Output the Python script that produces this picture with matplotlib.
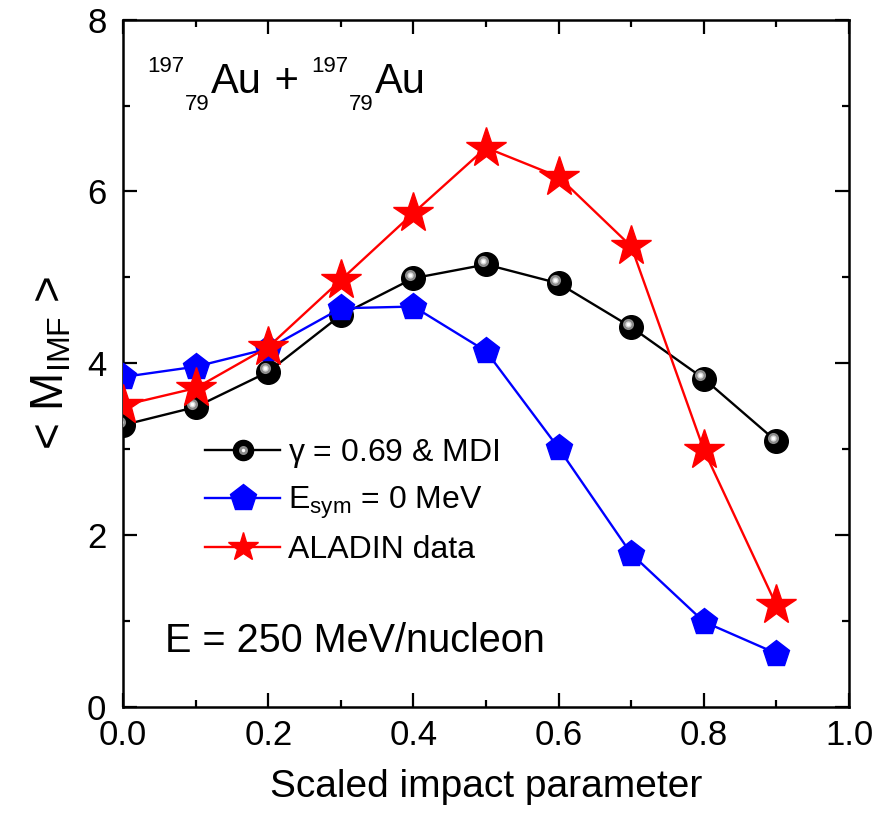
import matplotlib
matplotlib.use("Agg")
import matplotlib.pyplot as plt
import matplotlib.transforms as mtransforms
from matplotlib.legend_handler import HandlerTuple
from matplotlib.lines import Line2D

plt.rcParams['font.family'] = ['Liberation Sans', 'DejaVu Sans']
plt.rcParams['mathtext.fontset'] = 'custom'
plt.rcParams['mathtext.rm'] = 'Liberation Sans'
plt.rcParams['mathtext.it'] = 'Liberation Sans'

# données
b = [0.0, 0.1, 0.2, 0.3, 0.4, 0.5, 0.6, 0.7, 0.8, 0.9]
m_mdi = [3.28, 3.49, 3.90, 4.56, 4.99, 5.15, 4.93, 4.42, 3.82, 3.09]
m_esym0 = [3.84, 3.96, 4.17, 4.64, 4.66, 4.14, 3.01, 1.78, 0.99, 0.62]
m_aladin = [3.51, 3.71, 4.19, 4.97, 5.75, 6.51, 6.17, 5.36, 2.99, 1.18]

fig = plt.figure(figsize=(8.73, 8.18), dpi=100)
ax = fig.add_axes([0.141, 0.136, 0.8316, 0.8399])

# sphères noires avec reflet
ax.plot(b, m_mdi, '-o', color='black', lw=1.7, ms=17, zorder=3)
hl = mtransforms.offset_copy(ax.transData, fig=fig, x=-2.5, y=2.5, units='points')
ax.plot(b, m_mdi, 'o', color='#8c8c8c', ms=8, mew=0, transform=hl, zorder=3.1)
ax.plot(b, m_mdi, 'o', color='#d8d8d8', ms=4.5, mew=0, transform=hl, zorder=3.2)
ax.plot(b, m_mdi, 'o', color='white', ms=2.5, mew=0, transform=hl, zorder=3.3)

ax.plot(b, m_esym0, '-p', color='blue', lw=1.7, ms=20, zorder=4)
ax.plot(b, m_aladin, '-*', color='red', lw=1.7, ms=30, zorder=5)

ax.set_xlim(0, 1.0)
ax.set_ylim(0, 8)
ax.set_xticks([0.0, 0.2, 0.4, 0.6, 0.8, 1.0])
ax.set_xticks([0.1, 0.3, 0.5, 0.7, 0.9], minor=True)
ax.set_yticks([0, 2, 4, 6, 8])
ax.set_yticks([1, 3, 5, 7], minor=True)
ax.tick_params(which='both', direction='in', top=True, right=True, width=1.6)
ax.tick_params(which='major', length=10)
ax.tick_params(which='minor', length=5)
ax.tick_params(axis='y', labelsize=25, pad=12)
ax.tick_params(axis='x', labelsize=25, pad=9)
for s in ax.spines.values():
    s.set_linewidth(1.8)

ax.set_xlabel('Scaled impact parameter', fontsize=28, labelpad=12)
ax.set_ylabel(r'< M$_{\mathrm{IMF}}$ >', fontsize=33, labelpad=10)

# 197/79 Au + 197/79 Au : morceaux de texte enchaînés
renderer = fig.canvas.get_renderer()
pieces = [('197', 16, 21), ('79', 16, -17), ('Au', 30, 0), (' + ', 30, 0),
          ('197', 16, 21), ('79', 16, -17), ('Au', 30, 0)]
x0, y0 = ax.transAxes.transform((0.033, 0.894))
x = x0
for s, size, dy in pieces:
    t = ax.text(x, y0 + dy, s, fontsize=size, va='baseline', ha='left',
                transform=mtransforms.IdentityTransform())
    x = t.get_window_extent(renderer).x1 + 1

ax.text(0.058, 0.080, 'E = 250 MeV/nucleon', transform=ax.transAxes,
        fontsize=28.5, va='baseline')

# légende
h_mdi = (Line2D([], [], color='black', lw=1.7, marker='o', ms=14.5),
         Line2D([], [], color='#8c8c8c', ls='none', marker='o', ms=6.5, mew=0),
         Line2D([], [], color='white', ls='none', marker='o', ms=2.5, mew=0))
h_esym = Line2D([], [], color='blue', lw=1.7, marker='p', ms=20)
h_al = Line2D([], [], color='red', lw=1.7, marker='*', ms=22)
ax.legend([h_mdi, h_esym, h_al],
          [r'$\gamma$ = 0.69 & MDI', r'E$_{\mathrm{sym}}$ = 0 MeV', 'ALADIN data'],
          handler_map={tuple: HandlerTuple(ndivide=1, pad=0)},
          loc='upper left', bbox_to_anchor=(0.113, 0.392), frameon=False,
          fontsize=23, handlelength=2.35, handletextpad=0.25, labelspacing=0.45,
          borderpad=0, borderaxespad=0)

fig.savefig('out.png', dpi=100)
